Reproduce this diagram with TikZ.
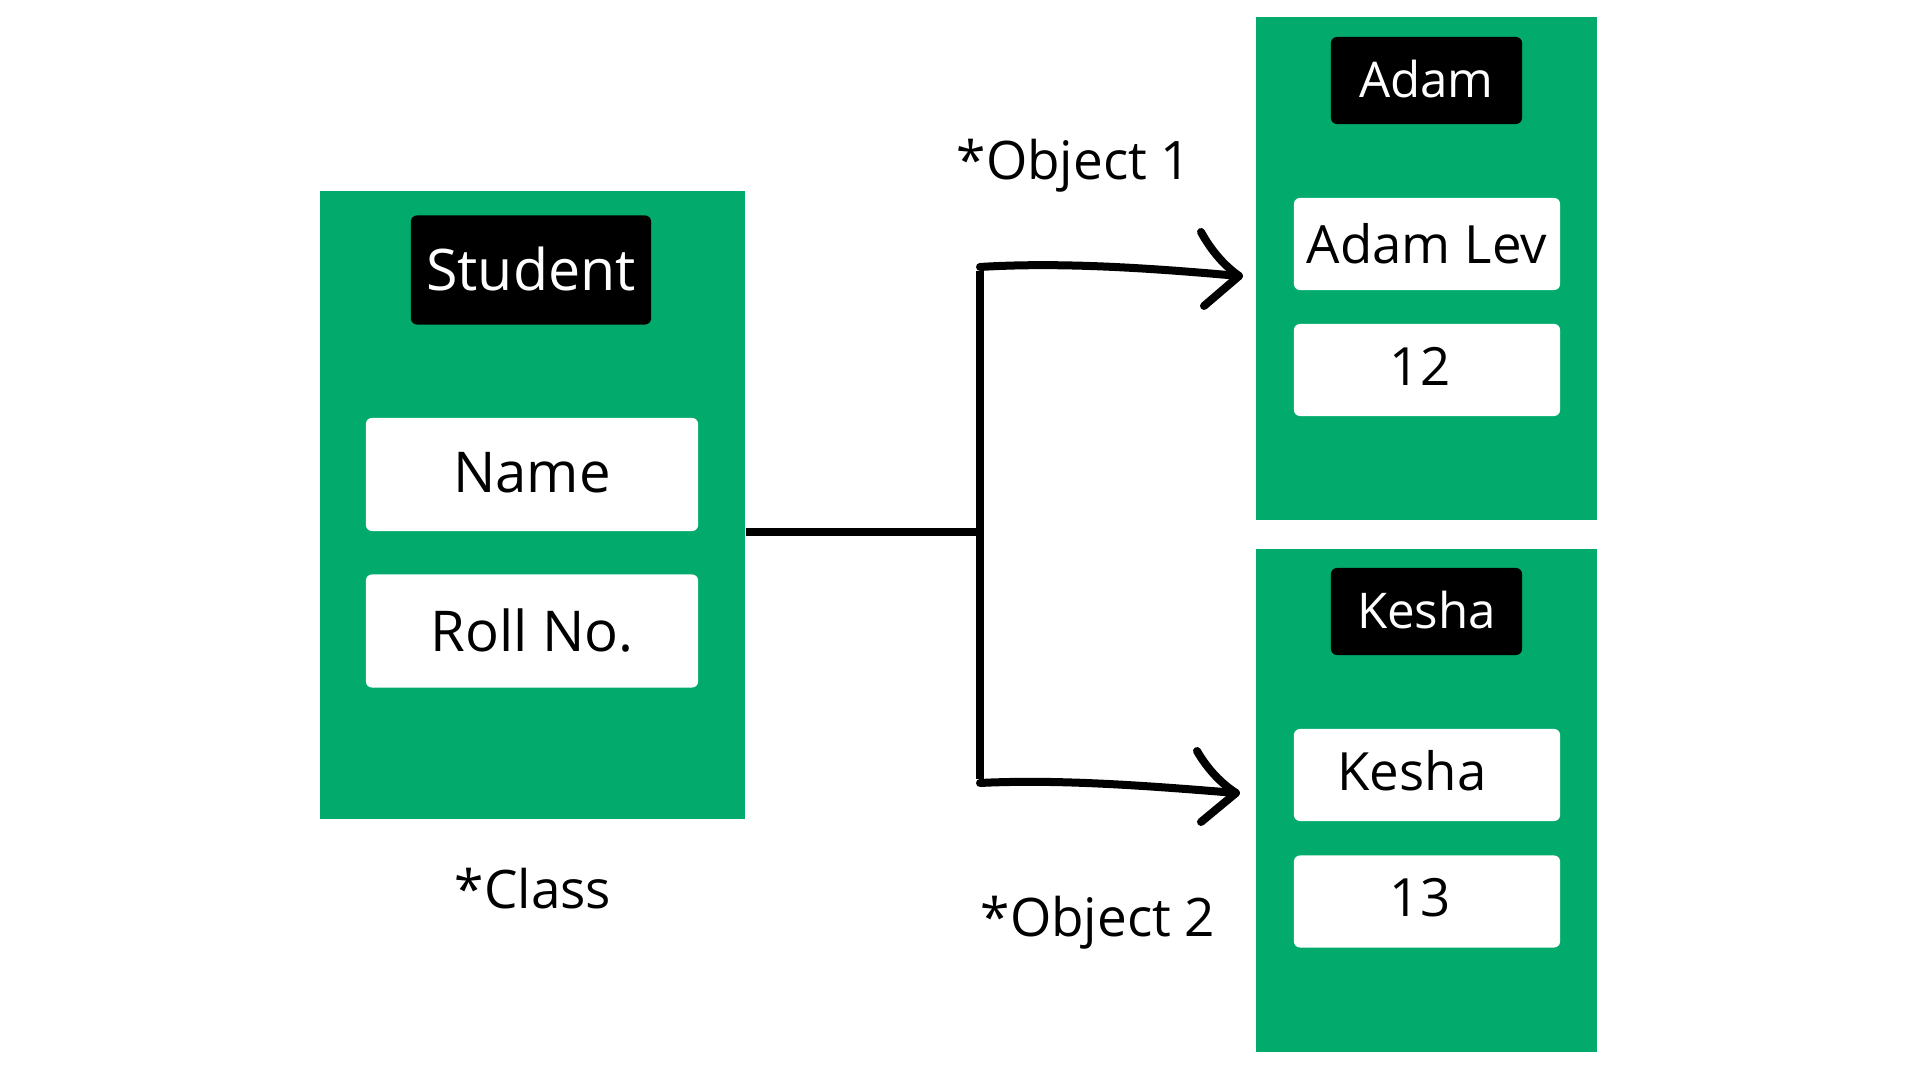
\documentclass[tikz,border=0pt]{standalone}
\usepackage{fontspec}
\setmainfont{Open Sans}
\definecolor{panelgreen}{HTML}{02AB6C}
\tikzset{
  panel/.style={fill=panelgreen, draw=none, inner sep=0pt},
  tagbox/.style={fill=black, text=white, rounded corners=0.06cm, minimum width=1.91cm, minimum height=0.87cm, inner sep=0pt, font=\fontsize{14}{16}\selectfont},
  bigtag/.style={tagbox, minimum width=2.40cm, minimum height=1.09cm, font=\fontsize{16.3}{19}\selectfont},
  fieldbox/.style={fill=white, text=black, rounded corners=0.06cm, minimum width=2.66cm, minimum height=0.92cm, inner sep=0pt, font=\fontsize{15}{18}\selectfont},
  bigfield/.style={fieldbox, minimum width=3.32cm, minimum height=1.13cm, font=\fontsize{16}{19}\selectfont},
  caption/.style={text=black, inner sep=0pt, font=\fontsize{15.1}{18}\selectfont},
  wire/.style={line width=0.08cm, black},
  handarrow/.style={line width=0.08cm, black, line cap=round, line join=round},
}
\begin{document}
\begin{tikzpicture}[x=0.01cm, y=-0.01cm]
\useasboundingbox (0,0) rectangle (1920,1080);
\fill[white] (0,0) rectangle (1920,1080);
% panels
\node[panel, minimum width=4.25cm, minimum height=6.28cm] (student) at (532.5,505) {};
\node[panel, minimum width=3.41cm, minimum height=5.03cm] (obj1) at (1426.5,268.5) {};
\node[panel, minimum width=3.41cm, minimum height=5.03cm] (obj2) at (1426.5,800.5) {};
% student class
\node[bigtag] (stag) at (531,270) {\raisebox{0.03cm}{Student}};
\node[bigfield] (sname) at (532,474.5) {\raisebox{0.04cm}{Name}};
\node[bigfield] (sroll) at (532,631) {\raisebox{0.02cm}{Roll No.}};
% object 1
\node[tagbox] (atag) at (1426.5,80.5) {\raisebox{0.04cm}{Adam}};
\node[fieldbox] (aname) at (1427,244) {\raisebox{0.02cm}{Adam Lev}};
\node[fieldbox] (aroll) at (1427,370) {\hspace*{-0.14cm}\raisebox{0.08cm}{12}};
% object 2
\node[tagbox] (ktag) at (1426.5,611.5) {\raisebox{0.03cm}{Kesha}};
\node[fieldbox] (kname) at (1427,775) {\hspace*{-0.3cm}\raisebox{0.09cm}{Kesha}};
\node[fieldbox] (kroll) at (1427,901.5) {\hspace*{-0.14cm}\raisebox{0.09cm}{13}};
% captions
\node[caption] (cls) at (533,889) {*Class};
\node[caption] (o1) at (1074,166) {*Object 1};
\node[caption] (o2) at (1098,923) {*Object 2};
% connectors
\coordinate (j) at (980,532);
\coordinate (jt) at (980,267);
\coordinate (jb) at (980,783);
\coordinate (t1) at (1239,276);
\coordinate (t2) at (1236,793);
\draw[wire] (student.east |- j) -- (j);
\draw[wire] ([yshift=-0.04cm]jt) -- ([yshift=0.04cm]jb);
\draw[handarrow] (jt) .. controls (1060,262) and (1150,268) .. (t1);
\draw[handarrow] (1201,232) .. controls (1212,252) and (1225,266) .. (t1) -- (1204,306);
\draw[handarrow] (jb) .. controls (1060,779) and (1150,786) .. (t2);
\draw[handarrow] (1197,751) .. controls (1208,770) and (1222,784) .. (t2) -- (1201,822);
\end{tikzpicture}
\end{document}
